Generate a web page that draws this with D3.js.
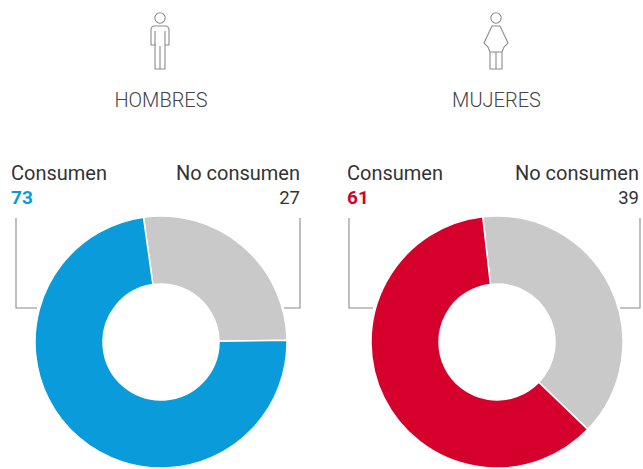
<!DOCTYPE html>
<html lang="es">
<head>
<meta charset="utf-8">
<title>Consumo por sexo</title>
<script src="https://cdn.jsdelivr.net/npm/d3@7"></script>
<style>
  html, body { margin: 0; background: #fff; }
  svg { display: block; }
  text { font-family: Roboto, "Liberation Sans", sans-serif; }
</style>
</head>
<body>
<svg id="chart" width="643" height="469"></svg>
<script>
const groups = ["HOMBRES", "MUJERES"];
const consumen = [73, 61];
const noConsumen = [27, 39];
const accentColors = ["#0a9bdb", "#d6002d"];
const restColor = "#c9c9c9";
const labelConsumen = "Consumen";
const labelNoConsumen = "No consumen";

// Layout of each panel: donut centre and the label/leader anchors
const centers = [[161, 342], [497, 342]];
const outerR = 126, innerR = 58;
const leftLabelX = [11, 347];
const rightLabelX = [300, 639];
const leaderLeft = [16, 349];
const leaderRight = [300, 640];
const iconX = [160, 496];
const titleX = [161, 496.5];

// Where the grey slice starts, just left of twelve o'clock
const greyStart = [-8, -6.5].map(d => d * Math.PI / 180);

// Outline figures above each panel
const figurePaths = [
  "M-4 21 H-9 V6 Q-9 2 -5 2 H5 Q9 2 9 6 V21 H5 M-5 7 V45 H5 V7 M0 22 V45",
  "M-4 2 H4 L12 19 L8 23 L6 28 V45 H-6 V28 L-8 23 L-12 19 Z M-6 28 H6 M0 28 V45"
];

const svg = d3.select("#chart");
const pct = d3.scaleLinear().domain([0, 100]).range([0, 2 * Math.PI]);
const arc = d3.arc().innerRadius(innerR).outerRadius(outerR);

groups.forEach((name, i) => {
  const [cx, cy] = centers[i];
  const g = svg.append("g");

  // Figure
  const fig = g.append("g").attr("transform", `translate(${iconX[i]},24)`)
    .attr("fill", "none").attr("stroke", "#8d8d8d").attr("stroke-width", 1.1);
  fig.append("circle").attr("cy", -6).attr("r", 5.2);
  fig.append("path").attr("d", figurePaths[i]);

  g.append("text").attr("x", titleX[i]).attr("y", 107)
    .attr("text-anchor", "middle")
    .attr("font-size", 20).attr("font-weight", 300).attr("fill", "#444")
    .text(name);

  // Leader lines from the labels to the ring
  const lines = g.append("g").attr("fill", "none").attr("stroke", "#8a8a8a").attr("stroke-width", 1.1);
  lines.append("path").attr("d", `M${leaderLeft[i]} 218 V308 H${cx - outerR + 2}`);
  lines.append("path").attr("d", `M${leaderRight[i]} 218 V308 H${cx + outerR - 3}`);

  // Ring: grey share first, then the coloured share going on round the circle
  const a0 = greyStart[i];
  const a1 = a0 + pct(noConsumen[i]);
  const a2 = a1 + pct(consumen[i]);
  g.append("path")
    .attr("transform", `translate(${cx},${cy})`)
    .attr("d", arc({ startAngle: a0, endAngle: a1 }))
    .attr("fill", restColor).attr("stroke", "#fff").attr("stroke-width", 1.5);
  g.append("path")
    .attr("transform", `translate(${cx},${cy})`)
    .attr("d", arc({ startAngle: a1, endAngle: a2 }))
    .attr("fill", accentColors[i]).attr("stroke", "#fff").attr("stroke-width", 1.5);

  // Labels
  g.append("text").attr("x", leftLabelX[i]).attr("y", 180)
    .attr("font-size", 20).attr("fill", "#333").text(labelConsumen);
  g.append("text").attr("x", leftLabelX[i]).attr("y", 204)
    .attr("font-size", 19).attr("font-weight", 700).attr("fill", accentColors[i]).text(consumen[i]);
  g.append("text").attr("x", rightLabelX[i]).attr("y", 180).attr("text-anchor", "end")
    .attr("font-size", 20).attr("fill", "#333").text(labelNoConsumen);
  g.append("text").attr("x", rightLabelX[i]).attr("y", 204).attr("text-anchor", "end")
    .attr("font-size", 18.5).attr("fill", "#333").text(noConsumen[i]);
});
</script>
</body>
</html>
